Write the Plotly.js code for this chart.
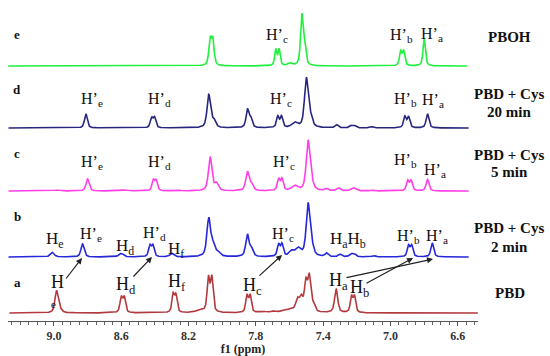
<!DOCTYPE html>
<html>
<head>
<meta charset="utf-8">
<script src="https://cdn.plot.ly/plotly-3.0.1.min.js"></script>
<style>html,body{margin:0;padding:0;background:#fff;}#chart{width:550px;height:356px;}</style>
</head>
<body>
<div id="chart"></div>
<script>
// ---- Data: peak lists (ppm, intensity, half-width ppm) ----
// a: PBD
const aPpm = [8.985, 8.968, 8.600, 8.582, 8.292, 8.275, 8.130, 8.082, 8.062, 7.853, 7.834, 7.760, 7.700, 7.600, 7.553, 7.530, 7.503, 7.483, 7.460, 7.323, 7.232, 7.214];
const aInt = [21, 4, 15, 15, 18, 17, 2, 33, 34, 17, 17, 1.2, 1.5, 3, 11, 13, 28, 34, 7, 24, 16, 16];
const aWid = [0.011, 0.014, 0.009, 0.009, 0.0085, 0.0085, 0.04, 0.009, 0.009, 0.0085, 0.0085, 0.02, 0.015, 0.05, 0.012, 0.012, 0.01, 0.01, 0.012, 0.011, 0.0085, 0.0085];
// b: PBD + Cys 2 min
const bPpm = [9.010, 8.830, 8.600, 8.430, 8.412, 8.300, 8.080, 8.055, 8.025, 7.850, 7.825, 7.665, 7.645, 7.590, 7.550, 7.490, 7.468, 7.380, 7.300, 7.235, 7.215, 7.100, 6.893, 6.874, 6.752];
const bInt = [4.5, 13, 3.5, 11, 11, 3.5, 38, 10, 4, 22, 7, 12, 12, 5, 8, 52, 9, 3.5, 2.5, 3, 3, 1.3, 11, 11, 14];
const bWid = [0.014, 0.011, 0.016, 0.009, 0.009, 0.014, 0.013, 0.013, 0.016, 0.012, 0.011, 0.009, 0.009, 0.016, 0.02, 0.013, 0.013, 0.011, 0.011, 0.011, 0.011, 0.011, 0.009, 0.009, 0.01];
// c: PBD + Cys 5 min
const cPpm = [8.980, 8.800, 8.580, 8.410, 8.393, 8.270, 8.072, 8.035, 7.850, 7.825, 7.665, 7.645, 7.570, 7.490, 7.470, 7.380, 7.310, 7.220, 7.110, 6.898, 6.878, 6.780];
const cInt = [1, 12, 1, 10, 10, 1, 34, 7, 19, 6, 11.5, 11.5, 5, 49, 7, 2, 3, 3, 1, 10, 10, 11.5];
const cWid = [0.02, 0.011, 0.02, 0.009, 0.009, 0.02, 0.012, 0.013, 0.012, 0.011, 0.009, 0.009, 0.02, 0.013, 0.013, 0.011, 0.013, 0.016, 0.011, 0.009, 0.009, 0.01];
// d: PBD + Cys 20 min
const dPpm = [8.810, 8.420, 8.402, 8.080, 8.050, 7.850, 7.830, 7.670, 7.648, 7.570, 7.500, 7.475, 7.320, 7.235, 7.212, 7.110, 6.915, 6.893, 6.780];
const dInt = [14, 10, 10, 33, 7, 18, 9, 11, 11, 5, 49, 9, 3, 2.2, 2.2, 1.3, 11, 11, 14];
const dWid = [0.01, 0.009, 0.009, 0.012, 0.013, 0.01, 0.01, 0.009, 0.009, 0.02, 0.013, 0.013, 0.011, 0.011, 0.011, 0.011, 0.009, 0.009, 0.01];
// e: PBOH
const ePpm = [8.072, 8.056, 7.682, 7.662, 7.600, 7.527, 7.510, 6.940, 6.922, 6.800];
const eInt = [25, 25, 16, 16, 2.5, 50, 18, 14, 14, 27];
const eWid = [0.009, 0.009, 0.0075, 0.0075, 0.015, 0.009, 0.009, 0.0085, 0.0085, 0.0085];

const sampleNames = ['PBD', 'PBD + Cys 2 min', 'PBD + Cys 5 min', 'PBD + Cys 20 min', 'PBOH'];
const xTicks = [9.0, 8.6, 8.2, 7.8, 7.4, 7.0, 6.6];

// ---- layout constants ----
const X_LEFT = 9.273, X_RIGHT = 6.48;
const offsets = [8, 64, 130, 193, 255];
const colors = ['#b23a3e', '#2626dc', '#ff3fe6', '#26267e', '#1ff03c'];
const ends = [6.48, 6.535, 6.535, 6.535, 6.545];
const starts = [9.265, 9.27, 9.27, 9.27, 9.272];
const ETA = 0.6; // Lorentzian fraction of the line shape

function spectrum(ppm, inten, wid, x0, x1, step) {
  const xs = [], ys = [];
  for (let x = x0; x >= x1 - 1e-9; x -= step) {
    let y = 0;
    for (let i = 0; i < ppm.length; i++) {
      const d = (x - ppm[i]) / wid[i];
      const d2 = d * d;
      y += inten[i] * (ETA / (1 + d2) + (1 - ETA) * Math.exp(-Math.LN2 * d2));
    }
    xs.push(x); ys.push(y);
  }
  return [xs, ys];
}

const peakSets = [[aPpm, aInt, aWid], [bPpm, bInt, bWid], [cPpm, cInt, cWid], [dPpm, dInt, dWid], [ePpm, eInt, eWid]];
const traces = peakSets.map((p, i) => {
  const [xs, ys] = spectrum(p[0], p[1], p[2], starts[i], ends[i], 0.0015);
  return {
    x: xs, y: ys.map(v => v + offsets[i]), type: 'scatter', mode: 'lines',
    name: sampleNames[i], line: { color: colors[i], width: 1.6 }, hoverinfo: 'skip'
  };
});

// pixel -> paper helpers (plot area: x 8..478, y 0..321)
const PX = px => (px - 8) / 470;
const PY = py => (321 - py) / 321;

const serif = 'Liberation Serif, Times New Roman, serif';
const ann = [];
function label(text, px, py, size, bold) {
  ann.push({ text: text, x: PX(px), y: PY(py), xref: 'paper', yref: 'paper', showarrow: false,
    xanchor: 'center', yanchor: 'middle',
    font: { family: serif, size: size, color: '#111', weight: bold ? 'bold' : 'normal' } });
}
function arrow(hx, hy, tx, ty) {
  ann.push({ text: '', x: PX(hx), y: PY(hy), xref: 'paper', yref: 'paper', showarrow: true,
    ax: tx - hx, ay: ty - hy, arrowhead: 2, arrowsize: 1, arrowwidth: 1.2, arrowcolor: '#222', standoff: 0, startstandoff: 0 });
}
const P = '\u2019';
const S = 16;
// trace e
label('H' + P + '<sub>c</sub>', 277, 35, S);
label('H' + P + '<sub>b</sub>', 401, 35, S);
label('H' + P + '<sub>a</sub>', 432, 34, S);
// trace d
label('H' + P + '<sub>e</sub>', 92, 99, S);
label('H' + P + '<sub>d</sub>', 159, 99, S);
label('H' + P + '<sub>c</sub>', 281, 99, S);
label('H' + P + '<sub>b</sub>', 405, 99, S);
label('H' + P + '<sub>a</sub>', 433, 100, S);
// trace c
label('H' + P + '<sub>e</sub>', 92, 163, S);
label('H' + P + '<sub>d</sub>', 159, 163, S);
label('H' + P + '<sub>c</sub>', 284, 163, S);
label('H' + P + '<sub>b</sub>', 405, 161, S);
label('H' + P + '<sub>a</sub>', 435, 171, S);
// trace b
label('H<sub>e</sub>', 55, 240, 17);
label('H' + P + '<sub>e</sub>', 91, 234, S);
label('H<sub>d</sub>', 125, 247, 17);
label('H' + P + '<sub>d</sub>', 154, 233, S);
label('H<sub>f</sub>', 176, 250, 17);
label('H' + P + '<sub>c</sub>', 283, 234, S);
label('H<sub>a</sub>H<sub>b</sub>', 348, 240, 17);
label('H' + P + '<sub>b</sub>', 408, 236, S);
label('H' + P + '<sub>a</sub>', 437, 236, S);
// trace a
label('H', 57, 282, 18);
label('e', 53, 304, 11);
label('H<sub>d</sub>', 126, 285, 18);
label('H<sub>f</sub>', 177, 282, 18);
label('H<sub>c</sub>', 252, 286, 18);
label('H<sub>a</sub>', 338, 281, 18);
label('H<sub>b</sub>', 359, 288, 18);
// arrows
arrow(82, 258, 65, 280);
arrow(152, 257, 132, 278);
arrow(282, 255, 258, 277);
arrow(433, 259, 345, 278);
arrow(413, 258, 365, 284);
// letters
label('e', 17, 34, 13, true);
label('d', 17, 89, 13, true);
label('c', 17, 153, 13, true);
label('b', 17, 216, 13, true);
label('a', 17, 282, 13, true);
// sample names
label('PBOH', 509, 37, 15, true);
label('PBD + Cys', 509, 94, 15, true);
label('20 min', 509, 112, 15, true);
label('PBD + Cys', 509, 155, 15, true);
label('5 min', 509, 172, 15, true);
label('PBD + Cys', 509, 228, 15, true);
label('2 min', 509, 247, 15, true);
label('PBD', 510, 293, 15, true);

const layout = {
  width: 550, height: 356,
  margin: { l: 8, r: 72, t: 0, b: 35, pad: 0 },
  paper_bgcolor: '#fff', plot_bgcolor: '#fff',
  showlegend: false,
  xaxis: {
    range: [X_LEFT, X_RIGHT], showgrid: false, zeroline: false,
    showline: true, linecolor: '#555', linewidth: 1,
    ticks: 'outside', ticklen: 4, tickcolor: '#555', tickwidth: 1,
    tickvals: xTicks, ticktext: xTicks.map(v => v.toFixed(1)),
    minor: { dtick: 0.05, tick0: 6.6, ticks: 'outside', ticklen: 3, tickcolor: '#666', tickwidth: 1, showgrid: false },
    tickfont: { family: serif, size: 12, color: '#333', weight: 'bold' },
    title: { text: 'f1 (ppm)', font: { family: serif, size: 12, color: '#222', weight: 'bold' }, standoff: 0 }
  },
  yaxis: { range: [0, 321], visible: false, fixedrange: true },
  annotations: ann
};
Plotly.newPlot('chart', traces, layout, { displayModeBar: false, staticPlot: true });
</script>
</body>
</html>
